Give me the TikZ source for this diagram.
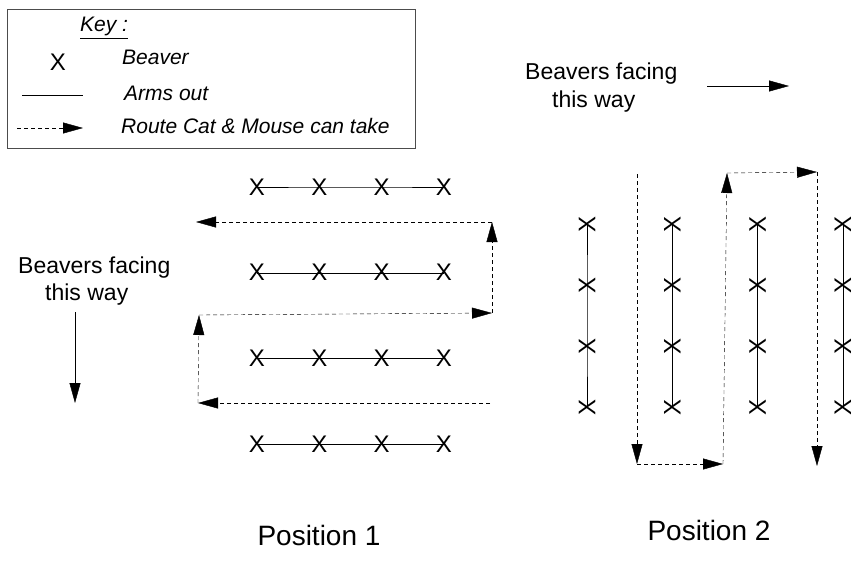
\documentclass[tikz,border=0pt]{standalone}
\usepackage{fontspec}
\setmainfont{Liberation Sans}
\usetikzlibrary{
  arrows.meta,
  positioning,  % Function "of" (e.g. [right=of x])
}
\def\mycoldist{62.3pt}
\def\myrowdist{85.7pt}
\def\mycoldistb{85.3pt}
\def\myrowdistb{61.3pt}
\tikzset{
  x=1pt,
  y=-1pt,
  line width=0.8pt,
  >={Triangle[length=20pt,width=11pt]},
  beaver/.style={
    inner sep=0pt,
    font=\fontsize{24}{28}\selectfont
  },
  beaver turned/.style={
    beaver,
    rotate=90
  },
  arms/.style={
    draw
  },
  route/.style={
    dash pattern=on 4pt off 3pt,
    ->
  },
  key text/.style={
    anchor=base west,
    inner sep=0pt,
    font=\itshape\fontsize{21}{25}\selectfont
  },
  facing text/.style={
    anchor=base west,
    inner sep=0pt,
    font=\fontsize{23}{27}\selectfont
  },
  caption/.style={
    anchor=base,
    inner sep=0pt,
    font=\fontsize{28}{33}\selectfont
  }
}
\begin{document}
\begin{tikzpicture}[on grid]
\useasboundingbox (0,0) rectangle (860,578);
% key
\draw[draw=black!70] (7,9) rectangle (415,148);
\node[key text] (key) at (80,32) {\underline{Key :}};
\node[beaver]   (kx)  at (58,62) {X};
\node[key text] (kb)  at (122,65)  {Beaver};
\node[key text] (ka)  at (124,100) {Arms out};
\node[key text] (kr)  at (121,133) {Route Cat \& Mouse can take};
\coordinate (ka1) at (22,95);  \coordinate (ka2) at (83,95);
\coordinate (kr1) at (17,128); \coordinate (kr2) at (83,128);
\draw (ka1) -- (ka2);
\draw[route] (kr1) -- (kr2);
% facing
\node[facing text] (f1a) at (18,273)  {Beavers facing};
\node[facing text] (f1b) at (45,300)  {this way};
\node[facing text] (f2a) at (525,80)  {Beavers facing};
\node[facing text] (f2b) at (552,107) {this way};
\coordinate (d1) at (75,312);  \coordinate (d2) at (75,403);
\coordinate (e1) at (707,86);  \coordinate (e2) at (789,86);
\draw[->] (d1) -- (d2);
\draw[->] (e1) -- (e2);
% position 1
\node[beaver] (b11) at (257,187) {X};
\node[beaver] (b12) [right=\mycoldist of b11] {X};
\node[beaver] (b13) [right=\mycoldist of b12] {X};
\node[beaver] (b14) [right=\mycoldist of b13] {X};
\node[beaver] (b21) [below=\myrowdist of b11] {X};
\node[beaver] (b22) [right=\mycoldist of b21] {X};
\node[beaver] (b23) [right=\mycoldist of b22] {X};
\node[beaver] (b24) [right=\mycoldist of b23] {X};
\node[beaver] (b31) [below=\myrowdist of b21] {X};
\node[beaver] (b32) [right=\mycoldist of b31] {X};
\node[beaver] (b33) [right=\mycoldist of b32] {X};
\node[beaver] (b34) [right=\mycoldist of b33] {X};
\node[beaver] (b41) [below=\myrowdist of b31] {X};
\node[beaver] (b42) [right=\mycoldist of b41] {X};
\node[beaver] (b43) [right=\mycoldist of b42] {X};
\node[beaver] (b44) [right=\mycoldist of b43] {X};
\path[arms] (b11.center) -- (b12.center) -- (b13.center) -- (b14.center)
            (b21.center) -- (b22.center) -- (b23.center) -- (b24.center)
            (b31.center) -- (b32.center) -- (b33.center) -- (b34.center)
            (b41.center) -- (b42.center) -- (b43.center) -- (b44.center);
\coordinate (r1) at (490,403); \coordinate (r2) at (198,403);
\coordinate (r3) at (199,315); \coordinate (r4) at (492,313);
\coordinate (r5) at (492,222); \coordinate (r6) at (196,222);
\draw[route] (r1) -- (r2);
\draw[route] (r2) -- (r3);
\draw[route] (r3) -- (r4);
\draw[route] (r4) -- (r5);
\draw[route] (r5) -- (r6);
\node[caption] (p1) at (319,545) {Position 1};
% position 2
\node[beaver turned] (c11) at (587,224) {X};
\node[beaver turned] (c12) [right=\mycoldistb of c11] {X};
\node[beaver turned] (c13) [right=\mycoldistb of c12] {X};
\node[beaver turned] (c14) [right=\mycoldistb of c13] {X};
\node[beaver turned] (c21) [below=\myrowdistb of c11] {X};
\node[beaver turned] (c22) [right=\mycoldistb of c21] {X};
\node[beaver turned] (c23) [right=\mycoldistb of c22] {X};
\node[beaver turned] (c24) [right=\mycoldistb of c23] {X};
\node[beaver turned] (c31) [below=\myrowdistb of c21] {X};
\node[beaver turned] (c32) [right=\mycoldistb of c31] {X};
\node[beaver turned] (c33) [right=\mycoldistb of c32] {X};
\node[beaver turned] (c34) [right=\mycoldistb of c33] {X};
\node[beaver turned] (c41) [below=\myrowdistb of c31] {X};
\node[beaver turned] (c42) [right=\mycoldistb of c41] {X};
\node[beaver turned] (c43) [right=\mycoldistb of c42] {X};
\node[beaver turned] (c44) [right=\mycoldistb of c43] {X};
\path[arms] (c11.center) -- (c21.center) -- (c31.center) -- (c41.center)
            (c12.center) -- (c22.center) -- (c32.center) -- (c42.center)
            (c13.center) -- (c23.center) -- (c33.center) -- (c43.center)
            (c14.center) -- (c24.center) -- (c34.center) -- (c44.center);
\coordinate (s1) at (637,174); \coordinate (s2) at (637,464);
\coordinate (s3) at (723,464); \coordinate (s4) at (727,173);
\coordinate (s5) at (817,172); \coordinate (s6) at (817,466);
\draw[route] (s1) -- (s2);
\draw[route] (s2) -- (s3);
\draw[route] (s3) -- (s4);
\draw[route] (s4) -- (s5);
\draw[route] (s5) -- (s6);
\node[caption] (p2) at (709,540) {Position 2};
\end{tikzpicture}
\end{document}
